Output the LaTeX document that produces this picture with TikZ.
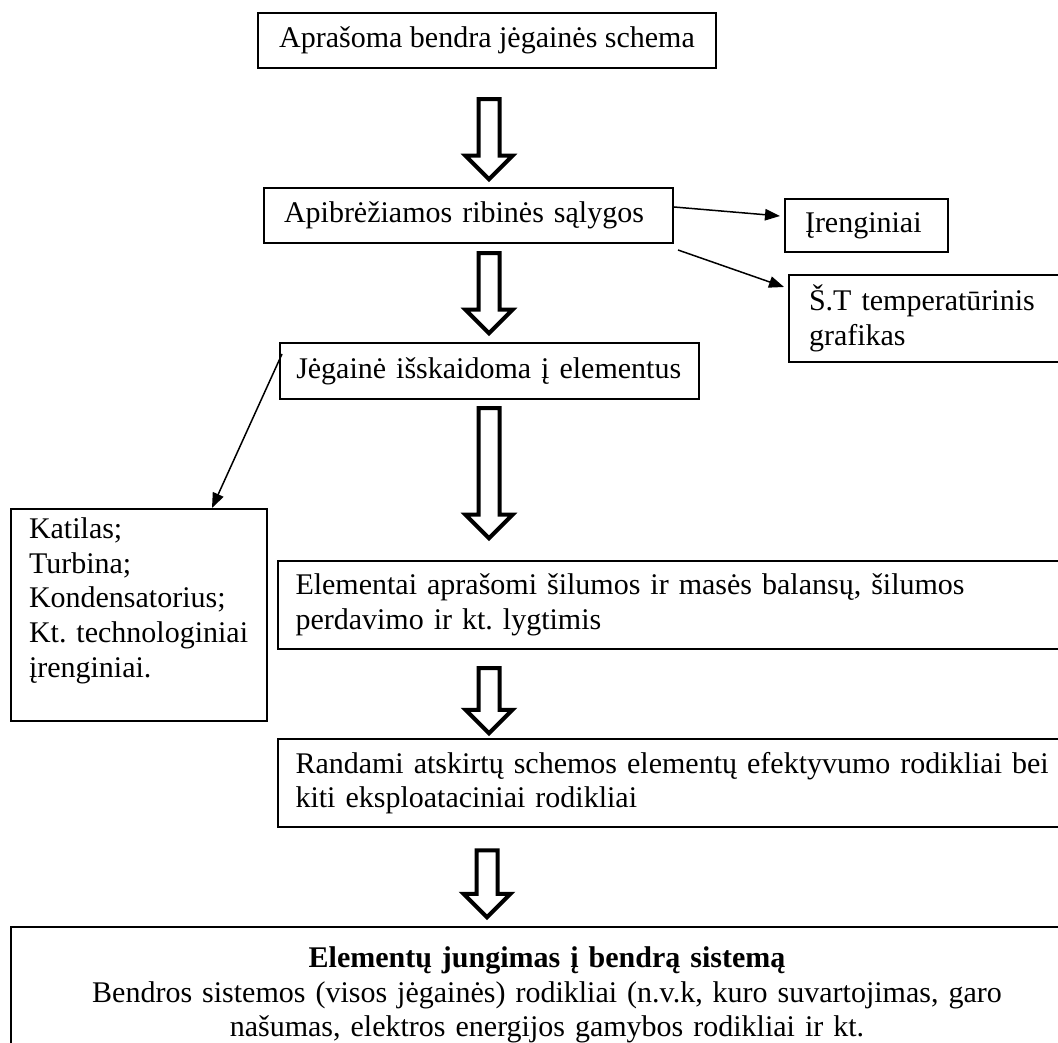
\documentclass[tikz,border=0pt]{standalone}
\usepackage{amsmath}
\usepackage{amssymb}
\usepackage{fontspec}
\setmainfont{Liberation Serif}
\usetikzlibrary{shapes.arrows,arrows.meta}
\frenchspacing
\hyphenpenalty=10000
\exhyphenpenalty=10000

\tikzset{
  blokas/.style={draw, line width=0.8pt, anchor=north west, inner xsep=8pt, inner ysep=0pt, align=left, font=\fontsize{12}{13.8}\selectfont},
  rodykle/.style={single arrow, draw, line width=1.6pt, rotate=-90, inner xsep=0pt, inner ysep=3.4pt, single arrow head extend=5.2pt, minimum height=32pt},
  ploninis/.style={line width=0.6pt, -{Triangle[length=6pt,width=4.6pt]}}
}

\begin{document}
\begin{tikzpicture}[x=0.4pt,y=-0.4pt]
\useasboundingbox (0,0) rectangle (1058,1043);
\clip (0,0) rectangle (1058,1043);

% Text Node
\node (schema) [blokas, align=center, minimum width=183.2pt, minimum height=22pt] at (257,12) {Aprašoma bendra jėgainės schema};
% Text Node
\node (ribines) [blokas, text width=147.6pt, minimum height=22pt] at (263,187) {Apibrėžiamos ribinės sąlygos};
% Text Node
\node (irenginiai) [blokas, text width=49.2pt, minimum height=21.2pt] at (784,198) {Įrenginiai};
% Text Node
\node (grafikas) [blokas, text width=100pt, minimum height=34.8pt] at (788,274) {Š.T temperatūrinis\\grafikas};
% Text Node
\node (isskaidoma) [blokas, text width=154.6pt, inner xsep=6.5pt, minimum height=22.4pt] at (279,342) {Jėgainė išskaidoma į elementus};
% Text Node
\node (katilas) [blokas, text width=88pt, inner xsep=7.2pt, inner ysep=3.6pt, text height=8.4pt, text depth=69.2pt] at (10,508) {Katilas;\\Turbina;\\Kondensatorius;\\Kt. technologiniai\\įrenginiai.};
% Text Node
\node (balansai) [blokas, text width=305pt, inner xsep=7pt, minimum height=35.2pt] at (277,560) {Elementai aprašomi šilumos ir masės balansų, šilumos\\perdavimo ir kt. lygtimis};
% Text Node
\node (rodikliai) [blokas, text width=305pt, inner xsep=7pt, minimum height=35.2pt] at (277,738) {Randami atskirtų schemos elementų efektyvumo rodikliai bei\\kiti eksploataciniai rodikliai};
% Text Node
\node (sistema) [blokas, align=center, text width=412.8pt, inner ysep=8pt] at (10,926) {\textbf{Elementų jungimas į bendrą sistemą}\\Bendros sistemos (visos jėgainės) rodikliai (n.v.k, kuro suvartojimas, garo\\našumas, elektros energijos gamybos rodikliai ir kt.};

%Shape: Down Arrow
\node (r1) [rodykle] at (489,134) {};
%Shape: Down Arrow
\node (r2) [rodykle] at (489,288) {};
%Shape: Down Arrow
\node (r3) [rodykle, minimum height=52pt] at (489,468) {};
%Shape: Down Arrow
\node (r4) [rodykle, minimum height=26pt] at (489,695.5) {};
%Shape: Down Arrow
\node (r5) [rodykle, minimum height=26.8pt] at (487,878.5) {};

%Straight Lines
\draw [ploninis] ([yshift=3.4pt]ribines.east) -- ([xshift=-1.6pt,yshift=3.8pt]irenginiai.west);
%Straight Lines
\draw [ploninis] ([xshift=1.6pt,yshift=-2.4pt]ribines.south east) -- ([xshift=-1.6pt,yshift=-5.2pt]grafikas.north west);
%Straight Lines
\draw [ploninis] ([xshift=1.2pt,yshift=-4.8pt]isskaidoma.north west) -- ([xshift=-22.4pt]katilas.north east);

\end{tikzpicture}
\end{document}
